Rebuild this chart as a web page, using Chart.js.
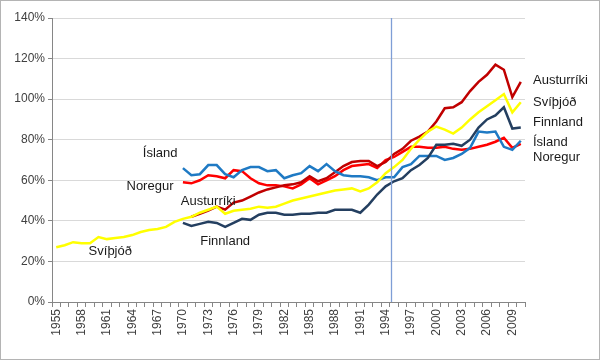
<!DOCTYPE html>
<html><head><meta charset="utf-8">
<script src="https://cdn.jsdelivr.net/npm/chart.js@4"></script>
<style>html,body{margin:0;padding:0;background:#fff}#wrap{width:600px;height:360px;position:relative}</style>
</head><body><div id="wrap"><canvas id="c" width="600" height="360"></canvas></div>
<script>
const years = ['1955','1956','1957','1958','1959','1960','1961','1962','1963','1964','1965','1966','1967','1968','1969',
'1970','1971','1972','1973','1974','1975','1976','1977','1978','1979',
'1980','1981','1982','1983','1984','1985','1986','1987','1988','1989',
'1990','1991','1992','1993','1994','1995','1996','1997','1998','1999',
'2000','2001','2002','2003','2004','2005','2006','2007','2008','2009','2010'];
const tickLabels = ['1955','1958','1961','1964','1967','1970','1973','1976','1979','1982','1985','1988','1991','1994','1997','2000','2003','2006','2009'];
const yTicks = [0,20,40,60,80,100,120,140];
const N15 = [null,null,null,null,null,null,null,null,null,null,null,null,null,null,null];
const svithjod = [27,28,29.5,29,29,32,31,31.5,32,33,34.5,35.5,36,37,39.5,
41,42,44,45.5,47,43.5,45,45.5,46,47,
46.5,47,48.5,50,51,52,53,54,55,55.5,
56,54.5,56,59,63.5,66.5,70,75.5,80,84,
86.5,85,83,86,90,93.5,96.5,99.5,102.5,93.5,98.5];
const island = N15.concat([66,62.5,63,67.5,67.5,63,61.5,65,66.5,66.5,
64.5,65,61,62.5,63.5,67,64.5,68,64.5,62.5,
62,62,61.5,60,61.5,61.5,66.5,68,72,72,
72,70,71,73,76,84,83.5,84,76.5,75,79.5]);
const noregur = N15.concat([59,58.5,60,62.5,62,61,65,64.5,61,58.5,
57.5,57.5,57,56,58,61,58,60,62,65,
67,67.5,68,66,70,71.5,74,76.5,76.5,76,
76,76.5,75.5,75,75.5,76.5,77.5,79,81,76,78]);
const austurriki = N15.concat([null,42,43.5,45,47,45.5,49,50,52,54,
55.5,56.5,57.5,58,59,62,59.5,61,64,67,
69,69.5,69.5,67,69,73,75.5,79.5,81.5,84,
89,95.5,96,98.5,104,108.5,112,117,114.5,101,108.5]);
const finnland = N15.concat([39,37.5,38.5,39.5,39,37,39,41,40.5,43,
44,44,43,43,43.5,43.5,44,44,45.5,45.5,
45.5,44,48,53,57,59.5,61,65,67.5,71,
77.5,77.5,78,77,80,86,90,92,96,85.5,86]);
const markerYears = ['1994','1995'];
const inLabels = [
 {t:'Ísland', x:1967.3, y:73.4},
 {t:'Noregur', x:1966.1, y:57},
 {t:'Austurríki', x:1973, y:49.8},
 {t:'Finnland', x:1975, y:30},
 {t:'Svíþjóð', x:1961.4, y:25.1}
];
const rightLabels = [['Austurríki',80],['Svíþjóð',102],['Finnland',122],['Ísland',142],['Noregur',157]];

const FONT = 'Liberation Sans';
const mk = (label, data, color, w) => ({label, data, borderColor: color, backgroundColor: color, borderWidth: w||2.5, pointRadius: 0, tension: 0, fill: false, spanGaps: false});

const overlay = {
  id: 'overlay',
  afterDatasetsDraw(chart) {
    const {ctx, chartArea, scales} = chart;
    const xs = scales.x, ys = scales.y;
    const i0 = years.indexOf(markerYears[0]), i1 = years.indexOf(markerYears[1]);
    const vx = Math.round((xs.getPixelForValue(i0) + xs.getPixelForValue(i1)) / 2) + 1.5;
    ctx.save();
    ctx.strokeStyle = '#7F9ED6';
    ctx.lineWidth = 1.3;
    ctx.beginPath(); ctx.moveTo(vx, chartArea.top); ctx.lineTo(vx, chartArea.bottom); ctx.stroke();
    ctx.fillStyle = '#1a1a1a';
    ctx.font = '13px "' + FONT + '"';
    ctx.textAlign = 'center'; ctx.textBaseline = 'middle';
    const px = (yr) => { const i = Math.floor(yr - 1955); const a = xs.getPixelForValue(i), b = xs.getPixelForValue(i+1); return a + (b-a)*(yr-1955-i); };
    inLabels.forEach(l => ctx.fillText(l.t, px(l.x), ys.getPixelForValue(l.y)));
    ctx.textAlign = 'left';
    rightLabels.forEach(([t, yy]) => ctx.fillText(t, chartArea.right + 8, yy));
    ctx.restore();
  },
  afterDraw(chart) {
    const ctx = chart.ctx;
    ctx.save(); ctx.strokeStyle = '#B4B4B4'; ctx.lineWidth = 1;
    ctx.strokeRect(0.5, 0.5, 599, 359); ctx.restore();
  }
};

new Chart(document.getElementById('c'), {
  type: 'line',
  data: {
    labels: years,
    datasets: [
      mk('Svíþjóð', svithjod, '#FFFF00'),
      mk('Finnland', finnland, '#243F60'),
      mk('Ísland', island, '#1F7AC4'),
      mk('Austurríki', austurriki, '#C00000'),
      mk('Noregur', noregur, '#FF0000')
    ]
  },
  options: {
    responsive: false,
    animation: false,
    events: [],
    layout: {padding: {top: 18, right: 75, left: 0, bottom: 0}},
    plugins: {legend: {display: false}, tooltip: {enabled: false}},
    scales: {
      x: {
        type: 'category', offset: true,
        grid: {drawOnChartArea: false, drawTicks: true, tickLength: 5, color: '#868686', offset: true},
        border: {color: '#868686'},
        ticks: {autoSkip: false, maxRotation: 90, minRotation: 90, padding: 2, color: '#404040',
          font: {family: FONT, size: 12},
          callback: function(v, i) { const l = years[i]; return tickLabels.includes(l) ? l : ''; }},
        afterFit: s => { s.height = 58; }
      },
      y: {
        min: 0, max: 140,
        afterBuildTicks: s => { s.ticks = yTicks.map(v => ({value: v})); },
        grid: {color: '#D9D9D9', tickLength: 4, tickColor: '#868686'},
        border: {color: '#868686'},
        ticks: {color: '#404040', padding: 3, font: {family: FONT, size: 12}, callback: v => v + '%'},
        afterFit: s => { s.width = 52; }
      }
    }
  },
  plugins: [overlay]
});
</script>
</body></html>
